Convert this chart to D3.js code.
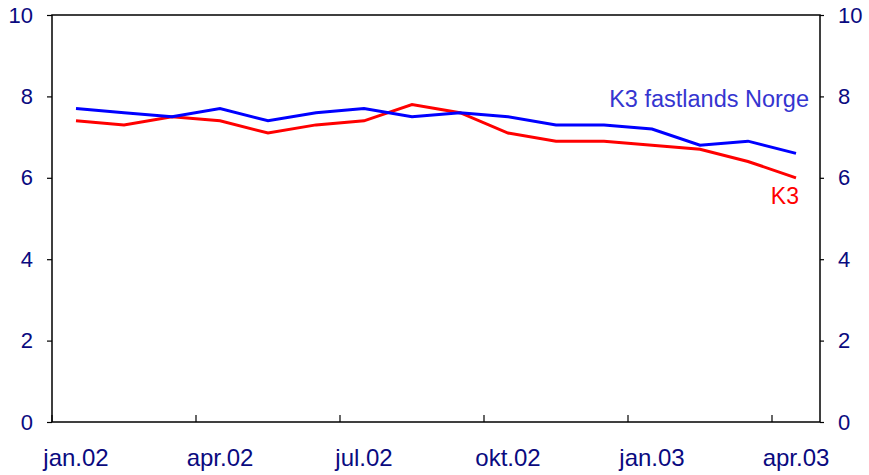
<!DOCTYPE html>
<meta charset="utf-8">
<style>
  body { margin: 0; background: #fff; }
  text { font-family: Arial, "Liberation Sans", sans-serif; }
  .tick-label { fill: #0a0a80; }
</style>
<body>
<script src="https://cdn.jsdelivr.net/npm/d3@7"></script>
<script>
// monthly data, jan.02 - apr.03
const months = ['jan.02','feb.02','mar.02','apr.02','mai.02','jun.02','jul.02','aug.02',
                'sep.02','okt.02','nov.02','des.02','jan.03','feb.03','mar.03','apr.03'];
const k3Fastland = [7.7, 7.6, 7.5, 7.7, 7.4, 7.6, 7.7, 7.5, 7.6, 7.5, 7.3, 7.3, 7.2, 6.8, 6.9, 6.6];
const k3 = [7.4, 7.3, 7.5, 7.4, 7.1, 7.3, 7.4, 7.8, 7.6, 7.1, 6.9, 6.9, 6.8, 6.7, 6.4, 6.0];
const yTicks = [0, 2, 4, 6, 8, 10];
const xLabelEvery = 3;

const width = 869, height = 475;
const plot = { left: 52, right: 820, top: 15, bottom: 422 };

const svg = d3.select('body').append('svg')
  .attr('width', width)
  .attr('height', height);

const x = d3.scaleBand().domain(months).range([plot.left, plot.right]).padding(0);
const y = d3.scaleLinear().domain([0, 10]).range([plot.bottom, plot.top]);

// frame
svg.append('rect')
  .attr('x', plot.left).attr('y', plot.top)
  .attr('width', plot.right - plot.left).attr('height', plot.bottom - plot.top)
  .attr('fill', 'none').attr('stroke', '#000').attr('stroke-width', 1.5);

// y axes, left and right
const yLeft = svg.append('g').attr('transform', `translate(${plot.left},0)`)
  .call(d3.axisLeft(y).tickValues(yTicks).tickSize(5).tickPadding(14).tickFormat(d3.format('d')));
const yRight = svg.append('g').attr('transform', `translate(${plot.right},0)`)
  .call(d3.axisRight(y).tickValues(yTicks).tickSize(4).tickPadding(14).tickFormat(d3.format('d')));
[yLeft, yRight].forEach(g => {
  g.attr('font-family', null).attr('font-size', null);
  g.select('.domain').remove();
  g.selectAll('line').attr('stroke', '#000').attr('stroke-width', 1.2);
  g.selectAll('text').attr('class', 'tick-label').style('font-size', '22px');
});

// x axis: ticks between categories, labels on quarter months
const shown = months.filter((d, i) => i % xLabelEvery === 0);
const xAxis = svg.append('g');
xAxis.selectAll('line').data(shown).enter().append('line')
  .attr('x1', d => x(d)).attr('x2', d => x(d))
  .attr('y1', plot.bottom).attr('y2', plot.bottom - 7)
  .attr('stroke', '#000').attr('stroke-width', 1.2);
xAxis.selectAll('text').data(shown).enter().append('text')
  .attr('class', 'tick-label')
  .attr('x', d => x(d) + x.bandwidth() / 2)
  .attr('y', 466)
  .attr('text-anchor', 'middle')
  .style('font-size', '24px')
  .text(d => d);

// lines
const line = d3.line()
  .x((d, i) => x(months[i]) + x.bandwidth() / 2)
  .y(d => y(d));

svg.append('path').datum(k3)
  .attr('d', line).attr('fill', 'none')
  .attr('stroke', '#ff0000').attr('stroke-width', 3);
svg.append('path').datum(k3Fastland)
  .attr('d', line).attr('fill', 'none')
  .attr('stroke', '#0000ff').attr('stroke-width', 3);

// series labels
svg.append('text')
  .attr('x', 809).attr('y', 107)
  .attr('text-anchor', 'end')
  .attr('fill', '#3535d0')
  .style('font-size', '23.5px')
  .text('K3 fastlands Norge');
svg.append('text')
  .attr('x', 799).attr('y', 204)
  .attr('text-anchor', 'end')
  .attr('fill', '#ff0000')
  .style('font-size', '23px')
  .text('K3');
</script>
</body>
